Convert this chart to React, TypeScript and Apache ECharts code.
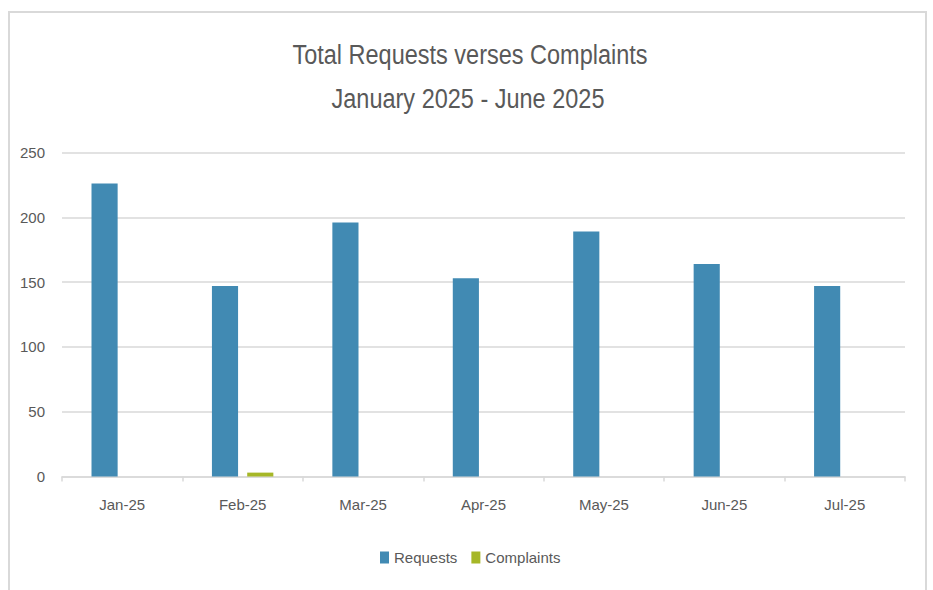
import React, { useEffect, useRef } from "react";
import * as echarts from "echarts";

const categories = ["Jan-25", "Feb-25", "Mar-25", "Apr-25", "May-25", "Jun-25", "Jul-25"];
const requests = [226, 147, 196, 153, 189, 164, 147];
const complaints = [0, 3, 0, 0, 0, 0, 0];
const titleLine1 = "Total Requests verses Complaints";
const titleLine2 = "January 2025 - June 2025";

const FONT = "'Liberation Sans', Arial, sans-serif";
const TEXT = "#595959";
const LINE = "#d9d9d9";

export default function App() {
  const ref = useRef<HTMLDivElement>(null);
  useEffect(() => {
    if (!ref.current) return;
    const chart = echarts.init(ref.current, undefined, { renderer: "svg" });
    chart.setOption({
      animation: false,
      backgroundColor: "#ffffff",
      textStyle: { fontFamily: FONT, color: TEXT },
      graphic: [
        {
          type: "rect",
          shape: { x: 9, y: 12, width: 917, height: 600 },
          style: { fill: "none", stroke: LINE, lineWidth: 2 },
          silent: true,
        },
        {
          type: "text",
          x: 470,
          y: 54,
          scaleY: 1.18,
          style: {
            text: titleLine1,
            fontFamily: FONT,
            fontSize: 23.5,
            fill: TEXT,
            textAlign: "center",
            textVerticalAlign: "middle",
          },
        },
        {
          type: "text",
          x: 468,
          y: 98.5,
          scaleY: 1.18,
          style: {
            text: titleLine2,
            fontFamily: FONT,
            fontSize: 23.5,
            fill: TEXT,
            textAlign: "center",
            textVerticalAlign: "middle",
          },
        },
      ],
      legend: {
        data: ["Requests", "Complaints"],
        left: 375,
        top: 545,
        itemWidth: 9,
        itemHeight: 12,
        itemGap: 14,
        icon: "rect",
        textStyle: { fontFamily: FONT, fontSize: 15, color: TEXT },
      },
      grid: { left: 62, right: 28, top: 152.5, bottom: 113.5, containLabel: false },
      xAxis: {
        type: "category",
        data: categories,
        axisLine: { show: true, lineStyle: { color: LINE, width: 1.5 } },
        axisTick: { show: true, alignWithLabel: false, length: 5, lineStyle: { color: LINE, width: 1.5 } },
        axisLabel: { fontFamily: FONT, fontSize: 15, color: TEXT, margin: 20 },
      },
      yAxis: {
        type: "value",
        min: 0,
        max: 250,
        interval: 50,
        axisLine: { show: false },
        axisTick: { show: false },
        splitLine: { lineStyle: { color: LINE, width: 1.5 } },
        axisLabel: { fontFamily: FONT, fontSize: 15, color: TEXT, margin: 17 },
      },
      series: [
        {
          name: "Requests",
          type: "bar",
          data: requests,
          barGap: "35%",
          barCategoryGap: "49%",
          itemStyle: { color: "#418ab3" },
        },
        {
          name: "Complaints",
          type: "bar",
          data: complaints,
          barGap: "35%",
          barCategoryGap: "49%",
          itemStyle: { color: "#a6b727" },
        },
      ],
    });
    return () => chart.dispose();
  }, []);
  return (
    <div
      ref={ref}
      style={{ position: "fixed", left: 0, top: 0, width: 933, height: 590 }}
    />
  );
}
